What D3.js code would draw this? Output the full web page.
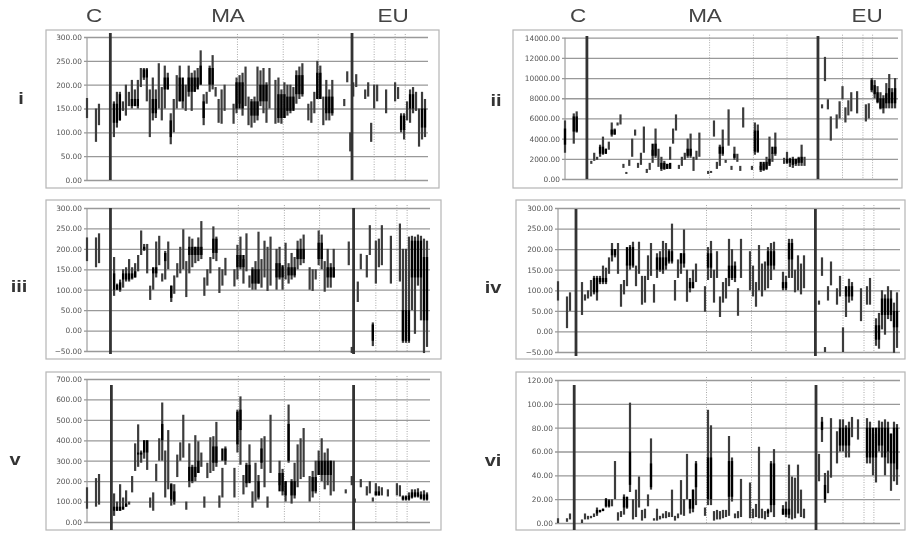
<!DOCTYPE html>
<html>
<head>
<meta charset="utf-8">
<script src="https://cdn.jsdelivr.net/npm/d3@7"></script>
<style>
  html, body { margin: 0; padding: 0; background: #fff; }
  svg { display: block; filter: blur(0.7px); }
  text { fill: #444; }
</style>
</head>
<body>
<div id="chart"></div>
<script>
// each row is [sample, low, high], samples run 0..113 along the x axis
const iBars = [[0,130,172],[3,80,150],[4,115,160],[9,90,165],[10,110,185],[11,125,185],[12,145,165],[13,135,200],[14,155,185],[15,150,210],[16,155,190],[17,150,210],[18,195,235],[19,210,235],[20,165,235],[21,90,190],[22,125,215],[23,130,190],[24,150,245],[25,125,195],[26,150,240],[27,190,225],[28,75,140],[29,100,170],[30,150,220],[31,165,240],[32,150,200],[33,145,200],[34,175,240],[35,145,225],[36,185,230],[37,195,235],[38,200,272],[39,115,180],[40,160,185],[41,185,240],[42,190,262],[43,175,195],[44,120,170],[45,118,190],[46,145,200],[49,118,160],[50,140,215],[51,160,220],[52,135,225],[53,155,238],[54,115,175],[55,110,170],[56,120,175],[57,125,238],[58,155,230],[59,140,235],[60,120,205],[61,150,235],[63,118,210],[64,120,215],[65,118,190],[66,130,205],[67,135,200],[68,140,200],[69,150,195],[70,160,230],[71,170,238],[72,175,245],[74,125,160],[75,120,165],[76,140,185],[77,170,250],[78,170,240],[79,115,175],[80,125,210],[81,125,190],[82,135,210],[86,155,170],[87,205,228],[88,60,100],[89,175,205],[90,195,222],[93,170,190],[94,175,205],[95,80,120],[96,150,200],[97,165,200],[100,140,190],[103,165,205],[104,170,195],[105,100,140],[106,85,140],[107,125,165],[108,120,190],[109,140,195],[110,145,185],[111,70,150],[112,85,185],[113,90,170]];
const iiBars = [[0,2600,5800],[3,3500,6500],[4,4600,6700],[9,1500,1800],[10,1800,2600],[11,1900,2200],[12,2200,3400],[13,2400,4200],[14,2500,3000],[15,2900,3700],[16,4200,5600],[17,4400,5000],[18,5300,5600],[19,5400,6400],[20,1100,1500],[21,500,700],[22,1300,1900],[23,2200,4000],[24,4300,4900],[25,1100,1600],[26,1400,2600],[27,2600,5200],[28,600,1000],[29,900,1600],[30,1600,2900],[31,2100,5000],[32,1200,3000],[33,800,2200],[34,900,1800],[35,1000,1500],[36,1900,3200],[37,3500,5000],[38,4800,6400],[39,1000,1400],[40,1300,2200],[41,1900,2600],[42,2100,4000],[43,2100,4500],[44,800,2200],[45,1900,2800],[46,2200,4600],[49,500,800],[50,600,800],[51,4200,5800],[52,1000,1700],[53,1300,3400],[54,2300,4900],[55,1600,1900],[56,3300,6900],[57,900,1300],[58,1900,3200],[59,1700,2500],[60,800,1300],[61,5100,7100],[64,900,1300],[65,2400,5600],[66,2600,5400],[67,700,1300],[68,800,1500],[69,900,2200],[70,1500,4200],[71,1700,2600],[72,2300,4600],[75,1500,2100],[76,1500,2700],[77,1200,2100],[78,1100,2200],[79,1300,2000],[80,1300,2200],[81,1300,3400],[82,1300,2200],[88,7000,7400],[89,9700,12100],[90,6900,7900],[91,3800,6200],[93,5000,6400],[94,6000,7700],[95,7900,9200],[96,5600,7100],[97,6300,7800],[98,6700,8600],[100,6500,8700],[103,5700,7400],[104,6000,7500],[105,8600,10000],[106,8000,9800],[107,7500,9200],[108,6900,8600],[109,6500,8300],[110,7000,9500],[111,7000,10400],[112,7000,9000],[113,7000,10000]];
const iiiBars = [[0,170,228],[3,155,228],[4,165,238],[9,85,180],[10,100,115],[11,95,125],[12,105,150],[13,120,155],[14,120,175],[15,125,155],[16,130,165],[17,145,185],[18,185,245],[19,195,212],[20,140,212],[21,75,110],[22,100,150],[23,130,218],[24,160,232],[25,120,140],[26,125,195],[27,150,218],[28,70,110],[29,90,135],[30,130,165],[31,140,205],[32,150,248],[33,82,170],[34,140,230],[35,155,225],[36,165,205],[37,170,228],[38,175,268],[39,85,130],[40,110,150],[41,140,180],[42,175,255],[43,170,230],[44,92,155],[45,110,150],[46,135,178],[49,108,150],[50,125,210],[51,150,230],[52,115,175],[53,145,238],[54,105,135],[55,100,155],[56,100,170],[57,115,242],[58,105,175],[59,130,220],[60,97,205],[61,110,230],[63,100,200],[64,125,205],[65,100,155],[66,125,215],[67,115,165],[68,125,190],[69,130,180],[70,150,220],[71,160,225],[72,165,235],[74,100,155],[75,97,150],[76,125,150],[77,160,245],[78,150,235],[79,95,170],[80,105,200],[81,105,165],[82,130,200],[87,160,218],[88,-55,-40],[90,70,120],[91,150,188],[93,130,185],[94,185,258],[95,-38,20],[96,115,220],[97,155,225],[98,160,258],[101,115,232],[104,120,262],[105,-30,200],[106,-30,200],[107,-30,230],[108,50,232],[109,-8,230],[110,110,235],[111,25,232],[112,-55,225],[113,-40,220]];
const ivBars = [[0,75,122],[3,8,85],[4,50,95],[8,40,120],[9,75,90],[10,80,100],[11,85,125],[12,90,135],[13,75,135],[14,115,135],[15,115,160],[16,115,155],[17,140,180],[18,170,215],[19,180,200],[20,140,215],[21,60,115],[22,90,125],[23,110,165],[24,150,210],[25,155,218],[26,110,160],[27,140,218],[28,65,135],[29,70,135],[30,125,185],[31,135,215],[32,70,115],[33,130,190],[34,145,195],[35,140,220],[36,150,215],[37,165,200],[38,165,262],[39,75,125],[40,130,175],[41,140,190],[42,155,248],[43,72,150],[44,95,130],[45,105,150],[46,120,165],[49,48,110],[50,125,205],[51,130,220],[52,70,150],[53,130,195],[54,35,85],[55,70,120],[56,80,130],[57,110,225],[58,125,200],[59,120,170],[60,38,105],[61,130,225],[64,100,195],[65,85,160],[66,60,120],[67,100,210],[68,85,165],[69,100,170],[70,105,205],[71,125,215],[72,150,218],[75,100,145],[76,100,135],[77,130,225],[78,130,225],[79,95,150],[80,100,185],[81,90,165],[82,105,185],[87,65,75],[88,135,180],[89,-50,-38],[90,75,110],[91,112,170],[93,65,105],[94,85,135],[95,-50,10],[96,35,100],[97,70,128],[98,75,120],[101,25,105],[103,65,110],[104,65,130],[106,-35,32],[107,-42,45],[108,5,100],[109,-8,90],[110,30,110],[111,25,100],[112,-52,70],[113,-40,95]];
const vBars = [[0,65,170],[3,75,215],[4,85,235],[9,30,140],[10,55,100],[11,55,185],[12,70,120],[13,75,155],[14,85,100],[15,145,225],[16,250,385],[17,270,478],[18,290,350],[19,310,400],[20,255,400],[21,70,120],[22,55,145],[23,200,285],[24,300,410],[25,300,585],[26,120,350],[27,160,450],[28,80,190],[29,85,185],[30,220,330],[31,300,390],[32,315,525],[33,60,100],[34,170,385],[35,190,280],[36,200,425],[37,240,395],[38,270,340],[39,70,125],[40,215,290],[41,240,415],[42,250,420],[43,270,490],[44,70,130],[45,120,265],[46,280,370],[49,120,265],[50,340,550],[51,280,615],[52,135,230],[53,170,290],[54,200,380],[55,70,150],[56,100,290],[57,110,230],[58,260,410],[59,170,420],[60,70,125],[61,240,525],[64,180,300],[65,130,260],[66,100,200],[67,290,575],[68,90,210],[69,115,290],[70,170,380],[71,210,410],[72,220,460],[74,100,225],[75,120,250],[76,140,300],[77,230,350],[78,200,410],[79,160,340],[80,180,360],[81,130,300],[82,150,300],[86,140,160],[88,180,225],[89,95,115],[91,170,210],[93,130,175],[94,140,200],[95,100,120],[96,130,190],[97,130,175],[98,130,170],[100,125,160],[103,130,190],[104,125,180],[105,105,130],[106,105,130],[107,105,145],[108,115,160],[109,120,160],[110,120,165],[111,110,150],[112,105,155],[113,105,145]];
const viBars = [[0,0,4],[3,1,4],[4,3,8],[8,0,3],[9,3,8],[10,3,6],[11,4,6],[12,5,8],[13,6,13],[14,9,11],[15,10,12],[16,13,21],[17,13,20],[18,14,20],[19,20,52],[20,2,9],[21,5,10],[22,7,24],[23,12,22],[24,26,101],[25,3,20],[26,5,28],[27,13,39],[28,2,11],[29,4,12],[30,14,24],[31,28,71],[32,2,4],[33,2,12],[34,3,6],[35,4,8],[36,4,10],[37,5,9],[38,5,28],[39,2,6],[40,4,8],[41,7,36],[42,6,20],[43,20,58],[44,8,20],[45,9,28],[46,15,52],[49,6,13],[50,15,95],[51,15,82],[52,2,10],[53,3,11],[54,3,10],[55,4,11],[56,5,11],[57,6,73],[58,18,55],[59,4,8],[60,4,10],[61,5,37],[64,4,34],[65,4,12],[66,5,16],[67,4,64],[68,4,12],[69,3,10],[70,5,12],[71,9,52],[72,5,62],[75,7,15],[76,5,18],[77,4,49],[78,3,39],[79,4,38],[80,8,49],[81,5,28],[82,4,12],[87,35,58],[88,68,89],[89,17,42],[90,25,44],[91,38,88],[93,50,77],[94,60,87],[95,60,87],[96,55,82],[97,55,85],[98,72,89],[100,70,87],[103,50,88],[104,50,85],[105,40,75],[106,34,75],[107,60,86],[108,55,85],[109,40,87],[110,50,85],[111,27,75],[112,35,85],[113,32,83]];

// the darker core where the ranges pile up, same row layout
const iCores = [[9,120,160],[10,120,160],[11,125,180],[15,155,170],[16,155,170],[17,155,170],[19,215,232],[20,215,232],[22,140,170],[23,140,170],[26,190,215],[27,190,215],[28,90,125],[31,165,215],[32,165,215],[34,185,215],[35,185,215],[36,185,215],[37,190,215],[38,200,240],[39,130,165],[41,200,235],[42,200,235],[50,150,205],[51,150,205],[52,150,205],[55,135,165],[56,135,165],[57,135,165],[58,165,200],[59,165,200],[60,165,200],[64,130,180],[65,130,180],[66,130,180],[67,145,175],[68,145,175],[69,145,175],[70,180,220],[71,180,220],[72,180,220],[77,170,225],[78,170,225],[80,140,175],[81,140,175],[82,140,175],[105,105,135],[106,105,135],[108,150,180],[109,150,180],[112,110,150],[113,110,150]];
const iiCores = [[0,3400,5000],[3,4700,6200],[4,4700,6200],[12,2500,3200],[13,2500,3200],[14,2500,3000],[16,4400,4900],[17,4400,4900],[30,2300,3500],[31,2300,3500],[33,1000,1600],[34,1000,1600],[35,1000,1500],[36,1000,1600],[42,2300,3000],[43,2300,3000],[53,2500,3200],[54,2500,3200],[58,2100,2500],[65,2700,4800],[66,2700,4800],[67,900,1700],[68,900,1700],[69,1000,1700],[70,1300,2000],[71,2500,3200],[72,2500,3200],[76,1600,2000],[77,1600,2000],[78,1400,2000],[79,1500,2000],[80,1600,2100],[81,1600,2200],[105,8800,9800],[106,8400,9300],[107,7600,8600],[108,7000,8000],[109,7000,8000],[110,7500,8500],[111,7500,9000],[112,7500,8600],[113,7500,9000]];
const iiiCores = [[9,100,140],[10,100,112],[11,100,118],[12,125,140],[13,125,140],[14,125,140],[15,128,140],[16,130,145],[19,198,205],[22,140,155],[23,140,155],[26,170,190],[28,80,110],[34,185,205],[35,185,205],[36,185,205],[37,185,205],[38,185,205],[42,190,225],[43,190,225],[50,155,185],[51,155,185],[52,155,185],[55,115,150],[56,115,150],[57,115,150],[63,130,165],[64,130,165],[65,130,160],[67,135,155],[68,135,155],[69,135,155],[70,175,200],[71,175,200],[72,175,200],[77,175,215],[78,175,215],[80,130,155],[81,130,155],[82,130,155],[95,-25,15],[105,-25,50],[106,-25,50],[107,-25,50],[108,130,220],[109,130,220],[110,130,220],[111,130,220],[112,25,180],[113,25,180]];
const ivCores = [[12,95,130],[13,95,130],[14,120,130],[15,120,130],[16,120,130],[18,185,200],[19,185,200],[23,160,205],[24,160,205],[25,160,205],[33,150,180],[34,150,180],[35,150,180],[36,160,180],[37,170,195],[38,170,195],[41,165,190],[42,165,190],[44,105,120],[45,105,120],[50,155,190],[51,155,190],[57,130,160],[58,130,160],[59,130,160],[70,160,195],[71,160,195],[72,160,195],[75,105,120],[76,105,120],[77,175,215],[78,175,215],[96,85,110],[97,85,110],[98,85,110],[106,-20,15],[107,-20,15],[108,40,80],[109,40,80],[110,40,80],[111,40,80],[112,10,50],[113,10,50]];
const vCores = [[9,55,75],[10,55,75],[11,55,75],[12,60,75],[13,75,90],[17,330,340],[18,330,340],[19,340,400],[20,340,400],[25,400,480],[28,110,185],[29,100,150],[34,200,270],[35,200,270],[36,220,270],[37,240,300],[42,290,370],[43,290,370],[45,300,360],[46,300,360],[50,380,540],[51,450,550],[53,190,280],[54,190,280],[57,120,200],[58,290,360],[64,150,240],[65,150,240],[66,130,200],[67,300,480],[68,130,200],[69,130,200],[75,150,220],[76,150,220],[77,230,300],[78,230,300],[79,230,300],[80,230,300],[81,230,300],[96,130,150],[97,130,150],[105,110,125],[106,110,125],[107,110,130],[108,120,145],[109,125,145],[110,125,145],[111,115,135],[112,110,135],[113,110,135]];
const viCores = [[13,8,11],[14,9,11],[15,10,12],[16,14,20],[17,14,19],[22,13,22],[23,13,22],[24,32,60],[31,30,50],[44,12,20],[45,12,28],[46,30,50],[50,20,55],[51,20,55],[57,22,52],[58,22,52],[70,8,11],[71,15,50],[72,15,50],[75,7,12],[76,7,12],[77,7,12],[88,78,85],[89,20,32],[94,65,80],[95,65,80],[96,65,80],[97,65,80],[103,55,80],[104,55,80],[105,55,80],[106,55,80],[107,65,80],[108,65,80],[109,55,80],[110,60,80],[111,50,75],[112,50,80],[113,45,80]];

const iTicks = [0, 50, 100, 150, 200, 250, 300];
const iiTicks = [0, 2000, 4000, 6000, 8000, 10000, 12000, 14000];
const iiiTicks = [-50, 0, 50, 100, 150, 200, 250, 300];
const vTicks = [0, 100, 200, 300, 400, 500, 600, 700];
const viTicks = [0, 20, 40, 60, 80, 100, 120];

// where the C / MA / EU groups end, and the dotted dividers inside MA and EU
const groupBreaks = [7.8, 88.6];
const leftDividers = [50.3, 65.6, 77.3, 96, 103, 106.4];
const rightDividers = [49.5, 64.5, 76, 95, 102, 105.3];

const groupNames = ["C", "MA", "EU"];

const panels = [
  { name: "i", bars: iBars, cores: iCores, ticks: iTicks, frame: [46, 30, 439, 188], plot: [87, 428, 37, 180], breakTop: 33, breakBottom: 180, dividers: leftDividers, breaks: groupBreaks, nameX: 21, nameY: 104 },
  { name: "ii", bars: iiBars, cores: iiCores, ticks: iiTicks, frame: [513, 30, 902, 188], plot: [565, 898, 37.7, 179], breakTop: 36, breakBottom: 179, dividers: rightDividers, breaks: [7.5, 86.6], nameX: 496, nameY: 106 },
  { name: "iii", bars: iiiBars, cores: iiiCores, ticks: iiiTicks, frame: [46, 200, 441, 359], plot: [87, 430, 208, 351], breakTop: 208, breakBottom: 354, dividers: leftDividers, breaks: groupBreaks, nameX: 19, nameY: 292 },
  { name: "iv", bars: ivBars, cores: ivCores, ticks: iiiTicks, frame: [516, 200, 905, 359], plot: [558, 900, 208, 352], breakTop: 209, breakBottom: 356, dividers: rightDividers, breaks: [6, 85.8], nameX: 493, nameY: 293 },
  { name: "v", bars: vBars, cores: vCores, ticks: vTicks, frame: [46, 372, 441, 530], plot: [87, 430, 379, 522], breakTop: 385, breakBottom: 530, dividers: leftDividers, breaks: [8.1, 88.6], nameX: 15, nameY: 465 },
  { name: "vi", bars: viBars, cores: viCores, ticks: viTicks, frame: [516, 372, 905, 530], plot: [558, 900, 380, 523], breakTop: 385, breakBottom: 530, dividers: rightDividers, breaks: [5.4, 86], nameX: 493, nameY: 466 },
];

const svg = d3
  .select("#chart")
  .append("svg")
  .attr("width", 910)
  .attr("height", 533);

const drawRanges = (rows, x, y, color, width) => {
  svg
    .append("g")
    .selectAll("line")
    .data(rows)
    .enter()
    .append("line")
    .attr("x1", (d) => x(d[0]))
    .attr("x2", (d) => x(d[0]))
    .attr("y1", (d) => y(d[1]))
    .attr("y2", (d) => y(d[2]))
    .attr("stroke", color)
    .attr("stroke-width", width);
};

const drawPanel = (panel) => {
  const [frameLeft, frameTop, frameRight, frameBottom] = panel.frame;
  const [left, right, top, bottom] = panel.plot;

  svg
    .append("rect")
    .attr("x", frameLeft)
    .attr("y", frameTop)
    .attr("width", frameRight - frameLeft)
    .attr("height", frameBottom - frameTop)
    .attr("fill", "none")
    .attr("stroke", "#b5b5b5")
    .attr("stroke-width", 1.2);

  const x = d3.scaleLinear().domain([0, 114]).range([left, right]);
  const y = d3
    .scaleLinear()
    .domain([panel.ticks[0], panel.ticks[panel.ticks.length - 1]])
    .range([bottom, top]);

  // gridlines and tick labels come from the axis
  const yAxis = svg
    .append("g")
    .attr("transform", "translate(" + left + ",0)")
    .call(
      d3
        .axisLeft(y)
        .tickValues(panel.ticks)
        .tickFormat(d3.format(".2f"))
        .tickSize(-(right - left))
        .tickPadding(5)
    );
  yAxis.select(".domain").attr("stroke", "#8a8a8a").attr("d", "M0," + top + "V" + bottom);
  yAxis.selectAll(".tick line").attr("stroke", "#999").attr("stroke-width", 1.3).attr("x1", -3);
  yAxis
    .selectAll(".tick text")
    .attr("font-family", "DejaVu Sans")
    .attr("font-size", 7.4)
    .style("fill", "#555");

  // dotted dividers
  svg
    .append("g")
    .selectAll("line")
    .data(panel.dividers)
    .enter()
    .append("line")
    .attr("x1", (d) => x(d))
    .attr("x2", (d) => x(d))
    .attr("y1", top - 3)
    .attr("y2", bottom + 1)
    .attr("stroke", "#aaa")
    .attr("stroke-dasharray", "1,1.5");

  // high-low ranges, dark core on top
  drawRanges(panel.bars, x, y, "#3c3c3c", 2.2);
  drawRanges(panel.cores, x, y, "#000", 2.3);

  // heavy group separators
  svg
    .append("g")
    .selectAll("line")
    .data(panel.breaks)
    .enter()
    .append("line")
    .attr("x1", (d) => x(d))
    .attr("x2", (d) => x(d))
    .attr("y1", panel.breakTop)
    .attr("y2", panel.breakBottom)
    .attr("stroke", "#333")
    .attr("stroke-width", 2.8);

  svg
    .append("text")
    .attr("transform", "translate(" + panel.nameX + "," + panel.nameY + ") scale(1.25,1)")
    .attr("text-anchor", "middle")
    .attr("font-family", "Liberation Sans")
    .attr("font-weight", "bold")
    .attr("font-size", 16)
    .style("fill", "#333")
    .text(panel.name);
};

panels.forEach(drawPanel);

// group headers over the two top panels
const headerPositions = [
  [94, 228, 393],
  [578, 705, 867],
];
headerPositions.forEach((row) => {
  row.forEach((pos, i) => {
    svg
      .append("text")
      .attr("transform", "translate(" + pos + ",22) scale(1.25,1)")
      .attr("text-anchor", "middle")
      .attr("font-family", "Liberation Sans")
      .attr("font-size", 18)
      .text(groupNames[i]);
  });
});
</script>
</body>
</html>
